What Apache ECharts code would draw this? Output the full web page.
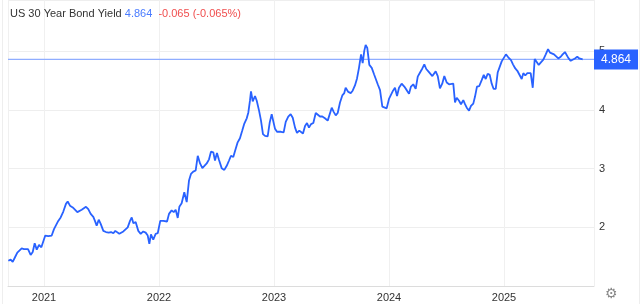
<!DOCTYPE html>
<html>
<head>
<meta charset="utf-8">
<script src="https://cdn.jsdelivr.net/npm/echarts@6/dist/echarts.min.js"></script>
<style>
html,body{margin:0;padding:0;background:#fff;}
#c{width:640px;height:304px;}
</style>
</head>
<body>
<div id="c"></div>
<script>
// x positions as decimal years
const years = [
2020.690,2020.710,2020.728,2020.748,2020.768,2020.783,2020.806,2020.826,2020.843,2020.861,
2020.884,2020.902,2020.919,2020.937,2020.957,2020.977,2020.994,2021.011,2021.037,2021.067,
2021.087,2021.104,2021.124,2021.145,2021.168,2021.191,2021.206,2021.226,2021.250,2021.267,
2021.290,2021.307,2021.328,2021.342,2021.365,2021.385,2021.406,2021.429,2021.443,2021.458,
2021.476,2021.493,2021.516,2021.539,2021.563,2021.583,2021.603,2021.620,2021.637,2021.655,
2021.667,2021.690,2021.707,2021.728,2021.748,2021.763,2021.777,2021.797,2021.820,2021.841,
2021.863,2021.884,2021.902,2021.916,2021.930,2021.950,2021.971,2021.989,2022.011,2022.037,
2022.052,2022.070,2022.087,2022.110,2022.128,2022.145,2022.163,2022.177,2022.197,2022.220,
2022.241,2022.261,2022.278,2022.298,2022.319,2022.337,2022.357,2022.377,2022.394,2022.415,
2022.435,2022.452,2022.472,2022.487,2022.504,2022.522,2022.545,2022.568,2022.589,2022.609,
2022.626,2022.646,2022.667,2022.684,2022.704,2022.724,2022.742,2022.763,2022.777,2022.791,
2022.800,2022.815,2022.835,2022.850,2022.870,2022.887,2022.904,2022.922,2022.945,2022.963,
2022.980,2022.994,2023.009,2023.026,2023.043,2023.061,2023.084,2023.102,2023.124,2023.145,
2023.163,2023.183,2023.200,2023.220,2023.235,2023.252,2023.270,2023.287,2023.304,2023.322,
2023.342,2023.363,2023.380,2023.400,2023.420,2023.443,2023.467,2023.484,2023.502,2023.519,
2023.537,2023.554,2023.574,2023.594,2023.611,2023.623,2023.646,2023.667,2023.684,2023.704,
2023.722,2023.739,2023.757,2023.771,2023.785,2023.797,2023.811,2023.829,2023.850,2023.870,
2023.884,2023.902,2023.922,2023.942,2023.959,2023.980,2024.000,2024.017,2024.035,2024.052,
2024.070,2024.087,2024.110,2024.133,2024.154,2024.174,2024.191,2024.211,2024.232,2024.250,
2024.270,2024.290,2024.307,2024.324,2024.342,2024.359,2024.377,2024.394,2024.406,2024.424,
2024.443,2024.463,2024.481,2024.502,2024.522,2024.539,2024.559,2024.574,2024.589,2024.609,
2024.626,2024.646,2024.661,2024.676,2024.696,2024.713,2024.733,2024.748,2024.765,2024.785,
2024.806,2024.824,2024.841,2024.858,2024.876,2024.893,2024.910,2024.928,2024.945,2024.965,
2024.980,2024.997,2025.017,2025.037,2025.061,2025.078,2025.098,2025.116,2025.133,2025.154,
2025.168,2025.185,2025.203,2025.220,2025.232,2025.250,2025.267,2025.284,2025.302,2025.319,
2025.342,2025.363,2025.383,2025.400,2025.417,2025.435,2025.452,2025.472,2025.493,2025.510,
2025.530,2025.545,2025.559,2025.580,2025.597,2025.617,2025.637,2025.655,2025.672,2025.684
];
// yield values (%)
const yields = [
1.43,1.45,1.41,1.49,1.57,1.55,1.64,1.63,1.60,1.63,
1.53,1.58,1.73,1.62,1.70,1.66,1.63,1.86,1.85,1.86,
1.97,2.00,2.11,2.17,2.27,2.40,2.44,2.37,2.34,2.33,
2.26,2.27,2.30,2.27,2.35,2.31,2.23,2.18,2.11,2.03,
2.13,2.06,1.94,1.92,1.91,1.92,1.90,1.94,1.92,1.89,
1.90,1.93,1.91,2.00,2.11,2.17,2.07,2.09,1.94,1.89,
1.93,1.91,1.86,1.72,1.88,1.79,1.89,1.90,2.11,2.11,
2.09,2.10,2.23,2.29,2.26,2.30,2.16,2.35,2.41,2.60,
2.43,2.80,2.91,2.95,2.97,3.22,3.09,3.01,2.98,3.09,
3.16,3.29,3.28,3.14,3.27,3.15,3.01,2.98,3.05,3.14,
3.22,3.20,3.34,3.45,3.52,3.65,3.77,3.86,3.96,4.16,
4.32,4.15,4.24,4.16,3.99,3.82,3.59,3.56,3.55,3.79,
3.93,3.90,3.68,3.63,3.65,3.63,3.62,3.80,3.89,3.93,
3.87,3.70,3.61,3.65,3.68,3.60,3.73,3.78,3.70,3.76,
3.78,3.95,3.96,3.89,3.89,3.86,3.82,3.85,4.04,3.97,
3.91,3.95,4.13,4.25,4.29,4.38,4.31,4.29,4.33,4.42,
4.54,4.72,4.95,4.80,5.01,5.11,5.06,4.77,4.72,4.61,
4.63,4.44,4.34,4.06,4.07,4.03,4.19,4.20,4.33,4.38,
4.24,4.38,4.45,4.40,4.34,4.28,4.40,4.44,4.36,4.57,
4.64,4.71,4.78,4.70,4.66,4.64,4.58,4.61,4.66,4.58,
4.37,4.45,4.58,4.47,4.44,4.45,4.45,4.13,4.21,4.16,
4.10,4.17,4.10,4.04,3.99,4.07,4.11,4.23,4.40,4.41,
4.51,4.60,4.53,4.62,4.60,4.45,4.36,4.36,4.64,4.75,
4.83,4.86,4.95,4.90,4.85,4.78,4.71,4.67,4.65,4.53,
4.63,4.59,4.63,4.61,4.63,4.38,4.87,4.84,4.77,4.81,
4.86,4.95,5.04,4.98,4.99,4.95,4.93,4.88,4.91,4.95,
4.99,4.97,4.89,4.84,4.86,4.88,4.91,4.88,4.89,4.864
];
const titleText = 'US 30 Year Bond Yield';
const lastValue = '4.864';
const changeText = '-0.065 (-0.065%)';
const yTickLabels = ['2', '3', '4', '5'];
const xTickLabels = ['2021', '2022', '2023', '2024', '2025'];
const xMin = 2020.687, xMax = 2025.7826;
const yMin = 1, yMax = 5.877;

const FONT = '"Liberation Sans", Arial, sans-serif';
const isInt = v => Math.abs(v - Math.round(v)) < 1e-6;
const last = Number(lastValue);

const chart = echarts.init(document.getElementById('c'), null, {renderer: 'canvas'});
chart.setOption({
  animation: false,
  backgroundColor: '#fff',
  textStyle: {fontFamily: FONT},
  title: {
    left: 10, top: 8,
    padding: 0,
    text: titleText + ' {b|' + lastValue + '}  {r|' + changeText + '}',
    textStyle: {
      fontFamily: FONT, fontSize: 11, fontWeight: 'normal', color: '#333',
      rich: {
        b: {fontFamily: FONT, fontSize: 11, color: '#4a7cff'},
        r: {fontFamily: FONT, fontSize: 11, color: '#f04e4e'}
      }
    }
  },
  grid: {left: 8, right: 46, top: -1, bottom: 18, containLabel: false},
  xAxis: {
    type: 'value',
    min: xMin,
    max: xMax,
    minInterval: 1,
    maxInterval: 1,
    axisLine: {show: true, lineStyle: {color: '#dcdcdc', width: 1}},
    axisTick: {show: false},
    axisLabel: {
      color: '#333', fontSize: 11, fontFamily: FONT, margin: 6,
      showMinLabel: false, showMaxLabel: false,
      formatter: v => {
        if (!isInt(v)) return '';
        const s = String(Math.round(v));
        return xTickLabels.indexOf(s) >= 0 ? s : '';
      }
    },
    splitLine: {show: true, lineStyle: {color: '#f0f0f0', width: 1}}
  },
  yAxis: {
    type: 'value',
    position: 'right',
    min: yMin,
    max: yMax,
    minInterval: 1,
    maxInterval: 1,
    axisLine: {show: false},
    axisTick: {show: false},
    axisLabel: {
      color: '#333', fontSize: 11, fontFamily: FONT, margin: 5,
      formatter: v => {
        if (!isInt(v)) return '';
        const s = String(Math.round(v));
        return yTickLabels.indexOf(s) >= 0 ? s : '';
      }
    },
    splitLine: {show: true, lineStyle: {color: '#eeeeee', width: 1}}
  },
  series: [
  {
    type: 'line',
    data: [[xMin, last], [xMax, last]],
    showSymbol: false,
    symbol: 'none',
    silent: true,
    color: '#8fadff',
    lineStyle: {color: '#8fadff', width: 1.2, opacity: 1},
    itemStyle: {color: '#8fadff'},
    z: 2,
    endLabel: {
      show: true,
      distance: 0,
      formatter: lastValue,
      color: '#fff',
      fontSize: 12,
      fontFamily: FONT,
      backgroundColor: '#2962ff',
      padding: [4, 7, 4, 7],
      lineHeight: 12
    }
  },
  {
    type: 'line',
    data: years.map((t, i) => [t, yields[i]]),
    showSymbol: false,
    symbol: 'none',
    color: '#2962ff',
    lineStyle: {color: '#2962ff', width: 1.8},
    itemStyle: {color: '#2962ff'},
    z: 3
  }],
  graphic: [
    {type: 'line', shape: {x1: 2.5, y1: 0, x2: 2.5, y2: 304}, style: {stroke: '#eeeeee', lineWidth: 1}},
    {type: 'line', shape: {x1: 639.5, y1: 0, x2: 639.5, y2: 304}, style: {stroke: '#eeeeee', lineWidth: 1}},
    {type: 'text', left: 605, top: 287, style: {text: '\u2699', fill: '#888', font: '14px "DejaVu Sans"'}}
  ]
});
</script>
</body>
</html>
